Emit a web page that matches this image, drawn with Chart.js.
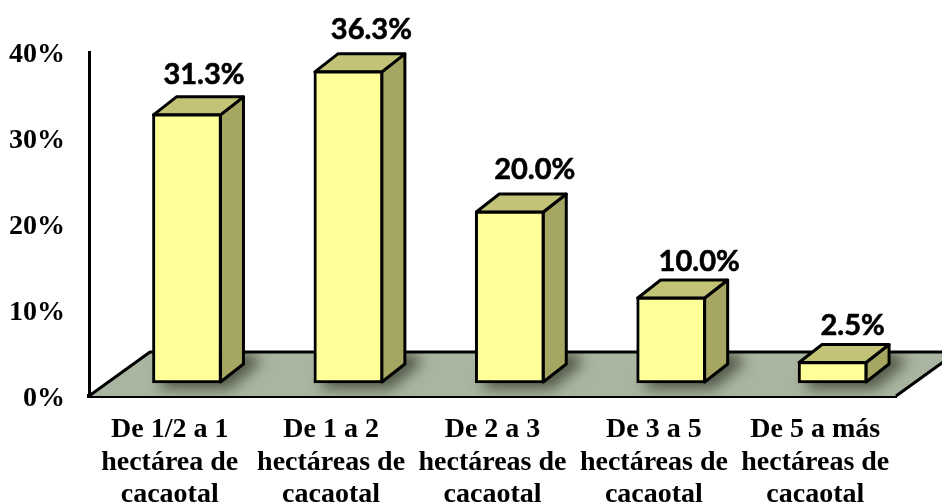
<!DOCTYPE html>
<html>
<head>
<meta charset="utf-8">
<style>
html, body { margin: 0; padding: 0; background: #fff; }
#wrap { width: 942px; height: 502px; overflow: hidden; }
</style>
<script src="https://cdn.jsdelivr.net/npm/chart.js@4/dist/chart.umd.min.js"></script>
</head>
<body>
<div id="wrap"><canvas id="chart" width="942" height="502"></canvas></div>
<script>
// Chart data
var categories = [
	["De 1/2 a 1", "hectárea de", "cacaotal"],
	["De 1 a 2", "hectáreas de", "cacaotal"],
	["De 2 a 3", "hectáreas de", "cacaotal"],
	["De 3 a 5", "hectáreas de", "cacaotal"],
	["De 5 a más", "hectáreas de", "cacaotal"]
];
var values = [31.3, 36.3, 20.0, 10.0, 2.5];
var tickValues = [0, 10, 20, 30, 40];

// Fake 3D settings
var depthX = 23;
var depthY = 18;
var floorX = 61;
var floorY = 44;
var labelNudgeX = [-6, 0, 2, 5, -3];
var labelNudgeY = [-21, -23, -23, -17, -18];

function poly(ctx, pts) {
	ctx.beginPath();
	ctx.moveTo(pts[0][0], pts[0][1]);
	for (var i = 1; i < pts.length; i++) {
		ctx.lineTo(pts[i][0], pts[i][1]);
	}
	ctx.closePath();
}

var floorPlugin = {
	id: "floor3d",
	beforeDatasetsDraw: function(chart) {
		var ctx = chart.ctx;
		var area = chart.chartArea;
		var floor = [
			[area.left, area.bottom],
			[area.right, area.bottom],
			[area.right + floorX, area.bottom - floorY],
			[area.left + floorX, area.bottom - floorY]
		];
		ctx.save();
		poly(ctx, floor);
		ctx.fillStyle = "#a9b5a0";
		ctx.fill();

		// Soft shadows around each bar foot
		ctx.save();
		poly(ctx, floor);
		ctx.clip();
		ctx.filter = "blur(7px)";
		ctx.fillStyle = "rgba(60,66,50,0.8)";
		chart.getDatasetMeta(0).data.forEach(function(bar) {
			var half = bar.width / 2;
			poly(ctx, [
				[bar.x - half + 6, bar.base + 6],
				[bar.x + half + 8, bar.base + 6],
				[bar.x + half + depthX + 16, bar.base - depthY - 2],
				[bar.x + half + depthX + 8, bar.base - depthY - 12],
				[bar.x - half + depthX, bar.base - depthY - 12]
			]);
			ctx.fill();
		});
		ctx.restore();

		// Floor edges
		ctx.lineJoin = "round";
		ctx.strokeStyle = "#000";
		ctx.lineWidth = 3;
		ctx.beginPath();
		ctx.moveTo(area.left, area.bottom);
		ctx.lineTo(area.left + floorX, area.bottom - floorY);
		ctx.lineTo(area.right + floorX, area.bottom - floorY);
		ctx.moveTo(area.right, area.bottom);
		ctx.lineTo(area.right + floorX, area.bottom - floorY);
		ctx.stroke();

		// Bar top and side faces
		chart.getDatasetMeta(0).data.forEach(function(bar) {
			var left = bar.x - bar.width / 2 + 1;
			var right = bar.x + bar.width / 2 - 1;
			var top = bar.y + 1;
			var bottom = bar.base - 1;
			poly(ctx, [[right, top], [right + depthX, top - depthY], [right + depthX, bottom - depthY], [right, bottom]]);
			ctx.fillStyle = "#a6a663";
			ctx.fill();
			ctx.stroke();
			poly(ctx, [[left, top], [left + depthX, top - depthY], [right + depthX, top - depthY], [right, top]]);
			ctx.fillStyle = "#c3c378";
			ctx.fill();
			ctx.stroke();
		});
		ctx.restore();
	},
	afterDatasetsDraw: function(chart) {
		var ctx = chart.ctx;
		ctx.save();
		ctx.font = "bold 29px Lato, 'Open Sans', sans-serif";
		ctx.fillStyle = "#000";
		ctx.strokeStyle = "#000";
		ctx.lineWidth = 0.6;
		ctx.textAlign = "center";
		ctx.textBaseline = "middle";
		chart.getDatasetMeta(0).data.forEach(function(bar, i) {
			var text = values[i].toFixed(1) + "%";
			ctx.fillText(text, bar.x + depthX + labelNudgeX[i], bar.y - depthY + labelNudgeY[i]);
			ctx.strokeText(text, bar.x + depthX + labelNudgeX[i], bar.y - depthY + labelNudgeY[i]);
		});
		ctx.restore();
	}
};

var barPoints = [];
for (var i = 0; i < values.length; i++) {
	barPoints.push({ x: i, y: values[i] });
}

var chart = new Chart(document.getElementById("chart"), {
	type: "bar",
	data: {
		labels: categories,
		datasets: [{
			data: barPoints,
			xAxisID: "xBars",
			yAxisID: "yBars",
			backgroundColor: "#ffff99",
			borderColor: "#000",
			borderWidth: 3,
			borderSkipped: false,
			barThickness: 69
		}]
	},
	options: {
		responsive: false,
		animation: false,
		layout: { padding: { left: 0, top: 52, right: 46, bottom: 0 } },
		plugins: {
			legend: { display: false },
			tooltip: { enabled: false }
		},
		scales: {
			x: {
				type: "category",
				position: "bottom",
				grid: { display: false, drawTicks: false },
				border: { color: "#000", width: 4 },
				afterFit: function(scale) { scale.height = 106; },
				ticks: {
					color: "#000",
					padding: 18,
					maxRotation: 0,
					autoSkip: false,
					font: { family: "'Liberation Serif'", size: 28, weight: "bold", lineHeight: 1.15 }
				}
			},
			y: {
				type: "linear",
				position: "left",
				min: 0,
				max: 40,
				grid: { display: false, drawTicks: false },
				border: { color: "#000", width: 3 },
				afterFit: function(scale) { scale.width = 89; },
				afterBuildTicks: function(scale) {
					scale.ticks = tickValues.map(function(v) { return { value: v }; });
				},
				ticks: {
					color: "#000",
					padding: 24,
					labelOffset: 3,
					callback: function(v) { return v + "%"; },
					font: { family: "'Liberation Serif'", size: 28, weight: "bold" }
				}
			},
			// Bars stand back from the axes, so they get their own hidden scales
			xBars: { type: "linear", axis: "x", display: false, offset: false, min: -0.607, max: 4.393 },
			yBars: { type: "linear", axis: "y", display: false, min: -1.51, max: 38.49 }
		}
	},
	plugins: [floorPlugin]
});
</script>
</body>
</html>
